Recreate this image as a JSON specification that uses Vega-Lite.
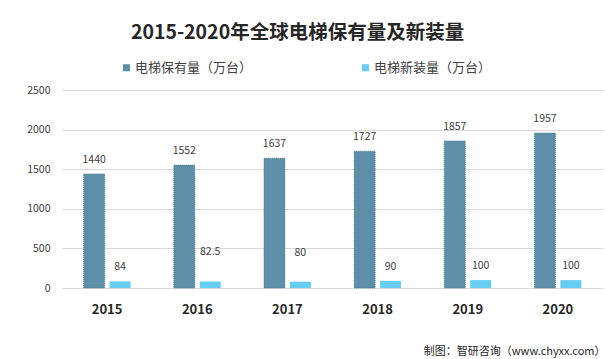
{
  "$schema": "https://vega.github.io/schema/vega-lite/v6.json",
  "width": 541,
  "height": 198,
  "autosize": {"type": "none"},
  "padding": {"left": 62, "top": 90, "right": 2, "bottom": 71},
  "background": "white",
  "title": {
    "text": "2015-2020年全球电梯保有量及新装量",
    "font": "Noto Sans CJK SC",
    "fontSize": 19.5,
    "fontWeight": "bold",
    "color": "#262626",
    "anchor": "middle",
    "dx": -35,
    "offset": 18
  },
  "data": {
    "values": [
      {"year": "2015", "series": "电梯保有量（万台）", "value": 1440},
      {"year": "2015", "series": "电梯新装量（万台）", "value": 84},
      {"year": "2016", "series": "电梯保有量（万台）", "value": 1552},
      {"year": "2016", "series": "电梯新装量（万台）", "value": 82.5},
      {"year": "2017", "series": "电梯保有量（万台）", "value": 1637},
      {"year": "2017", "series": "电梯新装量（万台）", "value": 80},
      {"year": "2018", "series": "电梯保有量（万台）", "value": 1727},
      {"year": "2018", "series": "电梯新装量（万台）", "value": 90},
      {"year": "2019", "series": "电梯保有量（万台）", "value": 1857},
      {"year": "2019", "series": "电梯新装量（万台）", "value": 100},
      {"year": "2020", "series": "电梯保有量（万台）", "value": 1957},
      {"year": "2020", "series": "电梯新装量（万台）", "value": 100}
    ]
  },
  "encoding": {
    "x": {
      "field": "year",
      "type": "nominal",
      "scale": {"paddingInner": 0.48, "paddingOuter": 0.24},
      "axis": {
        "labelAngle": 0,
        "labelFont": "Noto Sans CJK SC",
        "labelFontWeight": "bold",
        "labelFontSize": 13,
        "labelColor": "#262626",
        "labelPadding": 15,
        "ticks": false,
        "domain": false,
        "title": "制图：智研咨询（www.chyxx.com）",
        "titleX": 543,
        "titleAlign": "right",
        "titleFont": "Noto Sans CJK SC",
        "titleFontWeight": "normal",
        "titleFontSize": 11,
        "titleColor": "#262626",
        "titlePadding": 29
      }
    },
    "xOffset": {
      "field": "series",
      "type": "nominal",
      "sort": ["电梯保有量（万台）", "电梯新装量（万台）"],
      "scale": {"paddingInner": 0.19}
    },
    "y": {
      "field": "value",
      "type": "quantitative",
      "scale": {"domain": [0, 2500]},
      "axis": {
        "values": [0, 500, 1000, 1500, 2000, 2500],
        "format": "d",
        "labelFont": "Noto Sans CJK SC",
        "labelFontSize": 10.5,
        "labelColor": "#404040",
        "labelPadding": 12,
        "ticks": false,
        "domain": false,
        "grid": true,
        "gridColor": "#d9d9d9",
        "gridWidth": 1,
        "title": null
      }
    }
  },
  "layer": [
    {
      "mark": {"type": "bar", "strokeWidth": 0.8, "strokeDash": [1, 1]},
      "encoding": {
        "color": {
          "field": "series",
          "type": "nominal",
          "sort": ["电梯保有量（万台）", "电梯新装量（万台）"],
          "scale": {
            "domain": ["电梯保有量（万台）", "电梯新装量（万台）"],
            "range": ["#5d8fa8", "#68cdf2"]
          },
          "legend": {
            "orient": "none",
            "legendX": 58,
            "legendY": -29,
            "direction": "horizontal",
            "title": null,
            "padding": 0,
            "symbolType": "square",
            "symbolSize": 50,
            "symbolStrokeWidth": 0,
            "labelFont": "Noto Sans CJK SC",
            "labelFontSize": 13,
            "labelColor": "#404040",
            "labelOffset": 2,
            "columnPadding": 106
          }
        },
        "stroke": {
          "condition": {"test": "datum.series === '电梯保有量（万台）'", "value": "#46748a"},
          "value": null
        }
      }
    },
    {
      "transform": [
        {"filter": "!(datum.series === '电梯新装量（万台）' && (datum.year === '2016' || datum.year === '2017'))"}
      ],
      "mark": {
        "type": "text",
        "dy": -14,
        "baseline": "middle",
        "font": "Noto Sans CJK SC",
        "fontSize": 10.5,
        "color": "#404040"
      },
      "encoding": {"text": {"field": "value", "type": "nominal"}}
    },
    {
      "transform": [
        {"filter": "datum.series === '电梯新装量（万台）' && (datum.year === '2016' || datum.year === '2017')"}
      ],
      "mark": {
        "type": "text",
        "dy": -29,
        "baseline": "middle",
        "font": "Noto Sans CJK SC",
        "fontSize": 10.5,
        "color": "#404040"
      },
      "encoding": {"text": {"field": "value", "type": "nominal"}}
    }
  ],
  "config": {
    "view": {"stroke": null}
  }
}
